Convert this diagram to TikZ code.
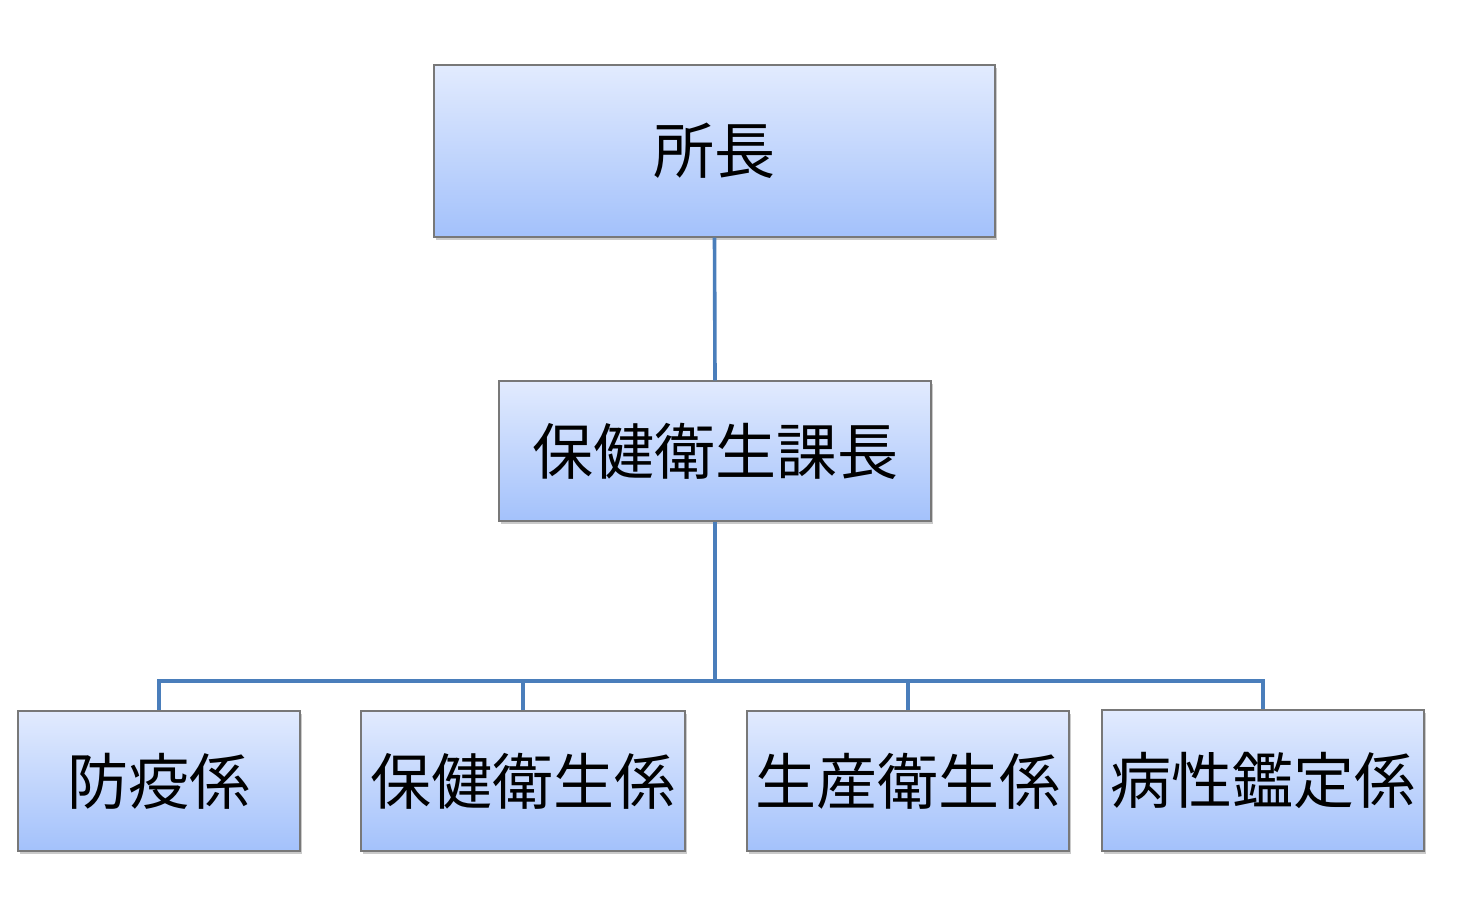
\documentclass[tikz,border=0pt]{standalone}
\usepackage{fontspec}
\newfontfamily\cjk{Noto Sans CJK JP}
\usetikzlibrary{shadows}
\definecolor{topc}{HTML}{E2EBFE}
\definecolor{botc}{HTML}{A3C1FB}
\definecolor{linec}{HTML}{4A7EBB}
\definecolor{edgec}{HTML}{787878}
\tikzset{
  orgbox/.style={draw=edgec, line width=1.3pt, top color=topc, bottom color=botc,
    drop shadow={shadow xshift=2pt, shadow yshift=-3pt, opacity=0.35, fill=black!60},
    inner sep=0pt, font=\cjk\fontsize{61}{61}\selectfont, text=black},
  conn/.style={draw=linec, line width=3.6pt}
}
\begin{document}
\begin{tikzpicture}[x=1pt,y=-1pt]
\useasboundingbox (0,0) rectangle (1469,910);
\node[orgbox, minimum width=561pt, minimum height=172pt] (a) at (714.5,151) {所長};
\node[orgbox, minimum width=432pt, minimum height=140pt] (b) at (715,451) {保健衛生課長};
\node[orgbox, minimum width=282pt, minimum height=140pt] (c1) at (159,781) {防疫係};
\node[orgbox, minimum width=324pt, minimum height=140pt] (c2) at (523,781) {保健衛生係};
\node[orgbox, minimum width=322pt, minimum height=140pt] (c3) at (908,781) {生産衛生係};
\node[orgbox, minimum width=322pt, minimum height=141pt] (c4) at (1263,780.5) {病性鑑定係};
\coordinate (j) at (715,681);
\draw[conn] (a.south) -- (b.north);
\draw[conn] (b.south) -- (j);
\draw[conn] (c1.north) |- (j) -| (c4.north);
\draw[conn] (c2.north) -- (c2.north |- j);
\draw[conn] (c3.north) -- (c3.north |- j);
\end{tikzpicture}
\end{document}
